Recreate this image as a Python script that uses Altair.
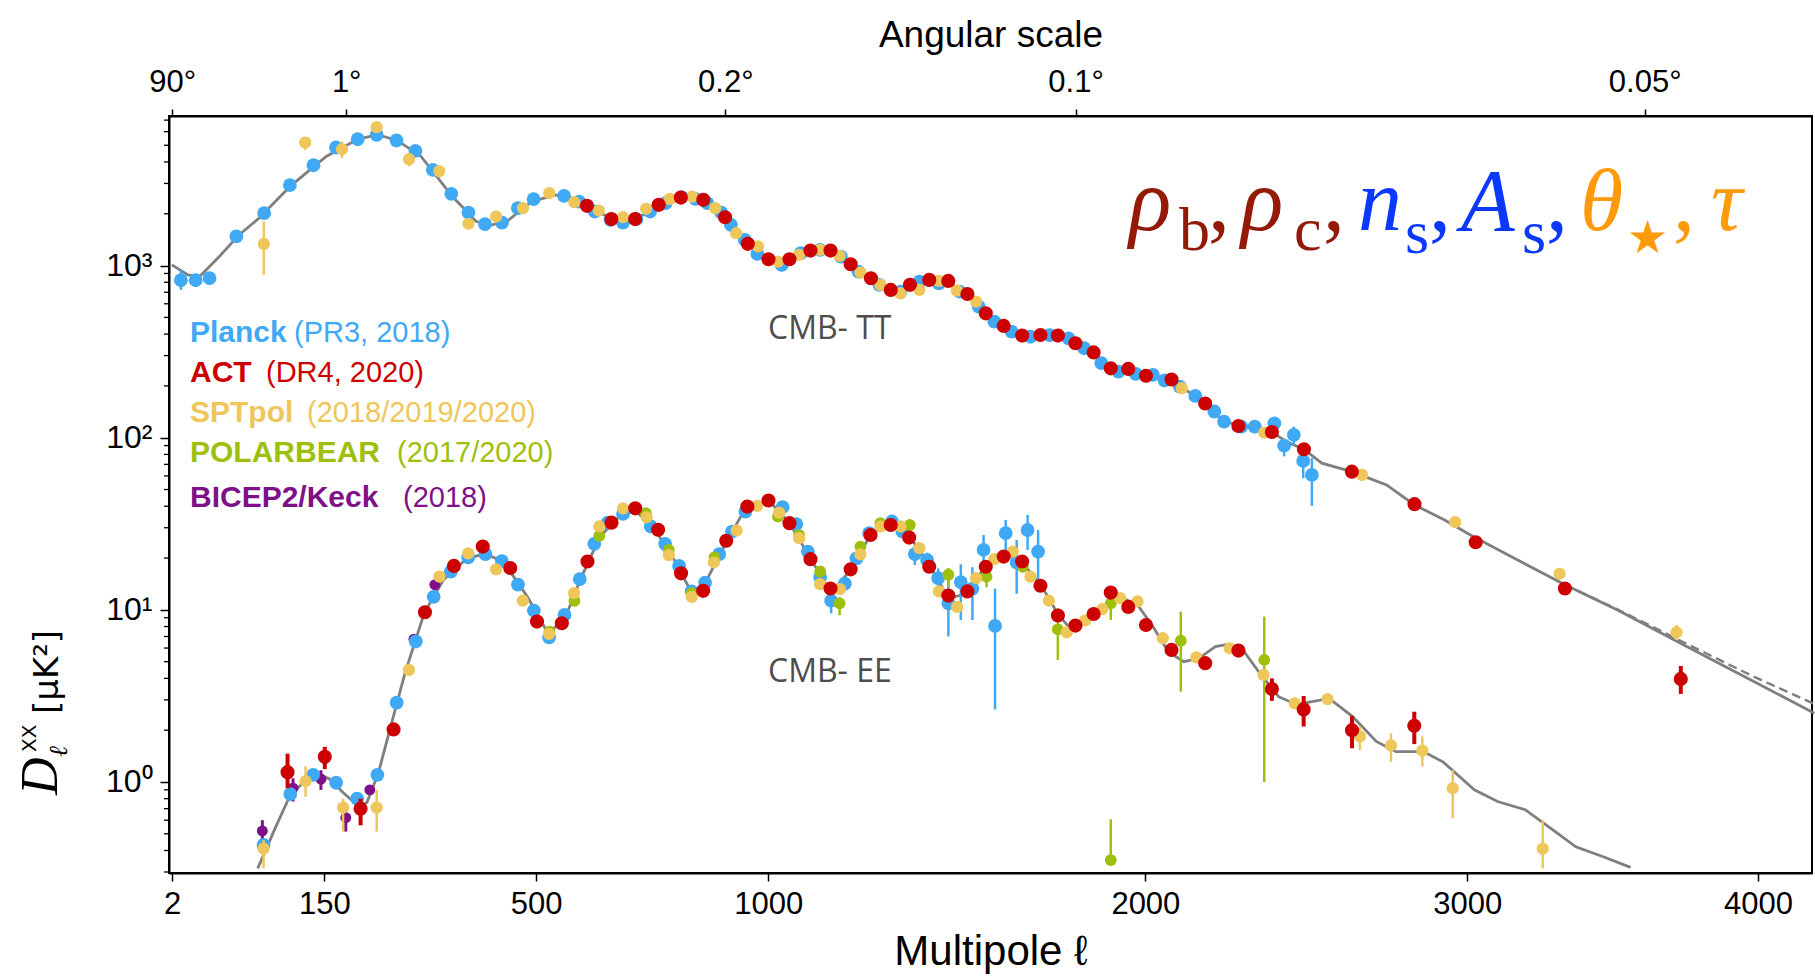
import altair as alt
import pandas as pd

# ---------------- theory curves ----------------
tt_theory_ell = [1.9, 9.7, 17.3, 32.6, 50.7, 70.8, 107, 152.4, 196.5, 225.7, 256.5, 294.6, 347.4, 389, 417.8,
                 446.9, 491.1, 537.5, 568.5, 616.5, 673.8, 732.6, 801, 827.7, 872, 917, 973, 1000, 1025, 1051,
                 1102, 1129, 1150, 1200, 1252, 1311, 1351, 1401, 1447, 1503, 1551, 1600, 1651, 1702, 1750,
                 1799, 1851, 1900, 1950, 2002, 2077, 2176, 2227, 2276, 2330, 2379, 2422, 2477, 2533, 2627,
                 2738, 2828, 2924, 3019, 3186, 3326, 3504, 3730, 3985, 4204]
tt_theory_D = [1010, 883, 863, 1130, 1510, 1884, 2904, 4305, 5420, 5754, 5333, 4305, 2518, 1803, 1726,
               1828, 2355, 2576, 2466, 2061, 1803, 2032, 2466, 2483, 2203, 1648, 1208, 1079, 1040, 1079,
               1216, 1245, 1222, 1018, 844, 716, 762, 818, 807, 684, 528, 446, 392, 395, 392,
               354, 313, 253, 248, 232, 217, 158, 127, 117, 113, 108, 95.1, 85.7, 71.1, 63.5,
               53.2, 40.7, 33.4, 26.7, 18.7, 14.0, 10.0, 6.34, 3.83, 2.51]
tt_fg_ell = [3326, 3504, 3730, 3985, 4204]
tt_fg_D = [14.0, 10.1, 6.55, 4.09, 2.84]

ee_theory_ell = [69.5, 88.6, 106.5, 135, 155.5, 176.7, 198.5, 210, 226.9, 244.6, 268.6, 299.7, 331.7, 370.9,
                 405.5, 440.5, 483.4, 523.7, 557.8, 588.4, 627.3, 667, 699.5, 732, 773.3, 824, 849.7, 893,
                 937.6, 1000.5, 1050.6, 1101.4, 1152, 1200.5, 1253, 1302, 1351, 1402, 1452, 1487, 1552,
                 1611, 1653, 1706, 1750, 1780, 1824, 1889, 1933, 1977, 2022, 2067, 2113, 2158, 2207, 2243,
                 2290, 2338, 2399, 2447, 2473, 2556, 2630, 2705, 2768, 2857, 2920, 3023, 3100, 3192, 3283,
                 3363, 3457, 3551]
ee_theory_D = [0.315, 0.538, 0.84, 1.12, 1.05, 0.86, 0.72, 0.76, 1.12, 2.00, 4.29, 9.55, 14.9, 19.7,
               21.3, 18.7, 11.9, 7.25, 9.14, 15.3, 26.7, 34.8, 37.8, 31.9, 22.3, 12.6, 13.6, 22.3,
               35.6, 43.5, 31.9, 19.9, 12.5, 17.1, 27.9, 31.1, 26.7, 18.2, 11.7, 12.2, 17.8,
               20.8, 18.7, 13.6, 9.46, 8.0, 8.55, 10.9, 11.7, 10.7, 8.0, 5.71, 5.0, 5.23, 6.12, 6.3,
               5.85, 4.37, 3.13, 2.86, 2.86, 3.06, 2.40, 1.72, 1.50, 1.50, 1.31, 0.90, 0.77, 0.69, 0.53,
               0.42, 0.368, 0.319]

# ---------------- Planck ----------------
planck_ell = [5.85, 14.6, 24.6, 47.9, 76.4, 106, 135.6, 165.7, 196.5, 224.6, 255.2, 285.4, 314.1, 345.4, 375.3,
              404.8, 435.8, 465.3, 495.3, 554.5, 584.5, 616.5, 649, 675, 703.4, 732.7, 766.3, 801.2, 832, 859,
              890.6, 912.9, 945, 974.3, 1032, 1078, 1125, 1176, 1220, 1273, 1327, 1376, 1427, 1482, 1533,
              1575, 1622, 1674, 1727, 1780, 1824, 1873, 1922, 1972, 2022, 2056, 2101, 2147, 2204, 2233,
              2285, 2326, 2386, 2416, 2446, 2475, 2502,
              75.7, 106.5, 135.2, 165.9, 195.6, 225.7, 255.4, 286, 315.5, 344.6, 374.8, 405.5, 435.5, 465.5,
              495.7, 525.2, 555.5, 586, 615.4, 643.1, 675, 734.2, 765.3, 796, 824, 854, 886.2, 915.3, 946.4,
              1034, 1067, 1095, 1125, 1152, 1186, 1215, 1247, 1305, 1332, 1364, 1396, 1425, 1452, 1485,
              1516, 1546, 1577, 1606, 1636, 1666, 1695]
planck_D = [822, 822, 845, 1476, 2015, 2931, 3828, 4852, 5420, 5750, 5330, 4645, 3600, 2612, 2033,
            1740, 1778, 2157, 2432, 2543, 2356, 2062, 1844, 1778, 1862, 2062, 2307, 2497, 2442, 2307,
            2033, 1726, 1410, 1169, 1009, 1180, 1234, 1128, 922, 773, 706, 807, 789, 706, 578,
            473, 413, 386, 395, 378, 331, 271, 242, 235, 232, 215, 198, 175, 142, 124,
            116, 116, 121, 90, 104, 73.3, 60.8,
            0.431, 0.851, 1.10, 0.99, 0.80, 1.10, 2.89, 6.55, 11.9, 16.7, 20.2, 21.1, 19.2, 14.0,
            9.9, 6.93, 9.35, 15.1, 24.2, 32.1, 36.1, 30.5, 24.2, 18.0, 12.8, 14.4, 21.1, 28.5, 37.2,
            39.5, 31.5, 21.8, 15.5, 11.3, 14.2, 19.9, 27.9, 32.6, 28.5, 21.1, 19.5, 15.3, 10.9, 14.5,
            13.3, 22.3, 8.07, 27.9, 18.8, 29.1, 21.8]
planck_err_ell = [5.85, 2386, 2416, 2446, 2475, 2502,
                  1152, 1364, 1396, 1425, 1452, 1485, 1516, 1546, 1577, 1606, 1636, 1666, 1695]
planck_err_lo = [723, 114, 78, 91, 58.2, 40.2,
                 9.55, 18.2, 18.0, 13.6, 7.0, 8.73, 8.73, 17.8, 2.64, 22.3, 12.4, 22.3, 14.3]
planck_err_hi = [944, 130, 97, 116, 79.4, 76,
                 13.3, 23.8, 21.5, 17.4, 14.9, 18.4, 17.7, 27.2, 13.3, 33.3, 25.5, 35.6, 29.1]

# ---------------- ACT ----------------
act_ell = [600.5, 650.7, 700.6, 751.4, 799.8, 850, 899.5, 952, 1000.5, 1050.6, 1101.4, 1150.5, 1200.5,
           1251.5, 1301.9, 1351.4, 1401.6, 1451.8, 1502.6, 1551.9, 1600.5, 1651, 1701.6, 1750.3, 1799.5,
           1851, 1900, 1950.4, 2001.8, 2076.6, 2176.5, 2276.4, 2378.5, 2477.3, 2627.6, 2827.8, 3027.5,
           3326, 3726,
           103.2, 150.5, 200.7, 250.6, 301, 349.9, 400.7, 451.1, 501.7, 550.2, 601.6, 651, 700.9, 750,
           800.3, 849.7, 902.1, 950.9, 1000.5, 1050.6, 1101.4, 1150.5, 1200.5, 1250.5, 1301.9, 1349.4,
           1401.6, 1451.8, 1502.6, 1551.9, 1600.5, 1651, 1701.6, 1750.3, 1799.5, 1851, 1900, 1950.4,
           2001.8, 2076.6, 2176.5, 2276.4, 2378.5, 2476.5, 2628, 2827]
act_D = [2223, 1862, 1862, 2254, 2483, 2410, 1910, 1337, 1089, 1089, 1222, 1222, 1018,
         844, 722, 773, 826, 815, 684, 528, 446, 392, 395, 392, 354,
         313, 253, 251, 229, 218, 158, 117, 108, 85.7, 63.5, 41.1, 24.7,
         13.3, 3.97,
         1.14, 1.40, 0.70, 2.02, 9.68, 18.0, 23.3, 17.5, 8.55, 8.36, 19.1, 32.1, 38.9, 29.2,
         16.3, 12.9, 25.2, 39.8, 43.2, 31.9, 19.7, 13.3, 17.2, 27.2, 31.1, 26.3,
         17.8, 12.1, 12.8, 17.8, 20.4, 19.1, 13.8, 9.27, 8.1, 9.46, 12.6, 10.4,
         8.17, 5.85, 4.90, 5.80, 3.47, 2.64, 2.00, 2.12]
act_err_ell = [3726, 103.2, 150.5, 200.7, 2378.5, 2476.5, 2628, 2827]
act_err_lo = [3.25, 0.92, 1.19, 0.56, 2.96, 2.10, 1.57, 1.66]
act_err_hi = [4.72, 1.46, 1.60, 0.80, 4.00, 3.16, 2.42, 2.56]

# ---------------- SPTpol ----------------
spt_ell = [76, 124.9, 174.1, 224.6, 275, 324.8, 375.2, 425, 474.9, 525.5, 574.9, 624.7, 675, 724, 775.3,
           825, 876.7, 925.1, 975.8, 1023, 1074, 1125, 1173, 1225, 1275.5, 1327, 1376, 1427, 1474.6,
           1526, 2107, 2355, 2660, 2960, 3308, 3711,
           75.7, 125.4, 175.6, 224.6, 274.8, 325.2, 374.8, 425, 474.7, 525.2, 574.5, 625.7, 675, 725.3,
           773.3, 824, 873.9, 926, 973.8, 1026, 1074, 1125, 1174, 1225, 1275.5, 1327, 1376, 1427, 1475,
           1526, 1575, 1625, 1674, 1725, 1775, 1827, 1876, 1927, 1977, 2051, 2150, 2250, 2353, 2449,
           2551, 2653, 2752, 2853, 2952, 3251]
spt_D = [1336, 5188, 4740, 6370, 4150, 3541, 1750, 1928, 2157, 2634, 2334, 2089, 1910, 2138, 2443,
         2518, 2157, 1542, 1291, 1054, 1153, 1234, 1137, 910, 773, 690, 722, 815, 716,
         618, 194, 107, 60.8, 32.3, 16.2, 7.41,
         0.41, 1.01, 0.71, 0.71, 4.48, 15.6, 21.3, 17.2, 11.3, 7.25, 12.5, 30.5, 38.9, 34.5,
         20.8, 11.9, 18.9, 28.9, 40.2, 36.7, 26.1, 14.1, 13.2, 21.0, 30.5, 30.5, 22.8, 12.8, 10.4,
         15.3, 19.7, 21.8, 15.6, 11.3, 7.41, 8.67, 10.1, 11.7, 11.2, 6.84, 5.30, 5.98, 4.19, 2.86,
         3.03, 1.84, 1.63, 1.52, 0.92, 0.41]
spt_err_ell = [76, 124.9, 174.1, 275, 3711, 75.7, 125.4, 175.6, 224.6, 2653, 2752, 2853, 2952, 3251]
spt_err_lo = [883, 4700, 4207, 3770, 6.68, 0.315, 0.82, 0.515, 0.515, 1.53, 1.31, 1.23, 0.615, 0.315]
spt_err_hi = [1803, 5570, 5260, 4500, 8.17, 0.46, 1.23, 0.80, 0.90, 2.10, 1.92, 1.84, 1.17, 0.60]

# ---------------- POLARBEAR ----------------
pb_ell = [526, 575.3, 625.7, 723.6, 773.3, 824, 875.5, 1023, 1074, 1125, 1173, 1225, 1275.5, 1351, 1452,
          1554, 1653, 1750, 1900, 1900, 2104, 2355]
pb_D = [7.48, 11.3, 26.9, 36.4, 22.3, 12.5, 20.2, 34.8, 27.2, 16.7, 10.9, 23.3, 31.9, 31.1, 16.0,
        15.6, 17.8, 7.71, 10.9, 0.352, 6.62, 5.12]
pb_err_ell = [1173, 1452, 1554, 1750, 1900, 1900, 2104, 2355]
pb_err_lo = [9.3, 13.6, 13.5, 5.12, 8.73, 0.33, 3.35, 1.0]
pb_err_hi = [11.9, 17.5, 17.1, 10.2, 11.7, 0.607, 9.77, 9.14]

# ---------------- BICEP2/Keck ----------------
bk_ell = [74.4, 109.8, 145.4, 179.4, 214.3, 283, 317.5]
bk_D = [0.52, 0.92, 1.04, 0.62, 0.90, 6.75, 14.0]
bk_err_ell = [74.4, 109.8, 145.4, 179.4]
bk_err_lo = [0.46, 0.77, 0.90, 0.515]
bk_err_hi = [0.60, 1.05, 1.17, 0.70]

# ---------------- axes ----------------
x_tick_values = [2, 150, 500, 1000, 2000, 3000, 4000]
top_tick_values = [2, 180, 900, 1800, 3600]
top_tick_labels = ["90°", "1°", "0.2°", "0.1°", "0.05°"]
y_tick_values = [1, 10, 100, 1000]
y_tick_labels = ["10⁰", "10¹", "10²", "10³"]
y_minor_ticks = [0.3, 0.4, 0.5, 0.6, 0.7, 0.8, 0.9, 2, 3, 4, 5, 6, 7, 8, 9, 20, 30, 40, 50, 60, 70, 80, 90,
                 200, 300, 400, 500, 600, 700, 800, 900, 2000, 3000, 4000, 5000, 6000, 7000]

# ---------------- styling ----------------
PLANCK = "#3FA9F5"
ACT = "#CC0000"
SPT = "#EEC65A"
PB = "#9DC00E"
BK = "#7E1187"
GRAY = "#7F7F7F"
F_RED = "#931A08"
F_BLUE = "#0A38FF"
F_ORANGE = "#FF9A0A"

FONT_AX = "Liberation Sans"
FONT_LEG = "Liberation Sans"
FONT_SERIF = "Liberation Serif"

PLOT_LEFT, PLOT_TOP = 169, 116
W, H = 1643, 757

X_SCALE = alt.Scale(type="pow", exponent=0.7, domain=[0.95, 4195], nice=False, zero=False)
Y_SCALE = alt.Scale(type="log", domain=[0.296, 7396], nice=False)


def frame(ell, D):
    n = min(len(ell), len(D))
    return pd.DataFrame({"ell": ell[:n], "D": D[:n]})


def err_frame(ell, lo, hi):
    n = min(len(ell), len(lo), len(hi))
    return pd.DataFrame({"ell": ell[:n], "lo": lo[:n], "hi": hi[:n]})


def points(df, color, size):
    return alt.Chart(df).mark_circle(color=color, size=size, opacity=1, strokeWidth=0).encode(
        x=alt.X("ell:Q", scale=X_SCALE, axis=None),
        y=alt.Y("D:Q", scale=Y_SCALE, axis=None),
    )


def errbars(df, color, width):
    return alt.Chart(df).mark_rule(color=color, strokeWidth=width).encode(
        x=alt.X("ell:Q", scale=X_SCALE, axis=None),
        y=alt.Y("lo:Q", scale=Y_SCALE, axis=None),
        y2="hi:Q",
    )


ONE = pd.DataFrame({"k": [0]})


def txt(s, x, y, size, color, font, weight="normal", style="normal", angle=0, align="left"):
    return alt.Chart(ONE).mark_text(
        text=s, fontSize=size, color=color, font=font, fontWeight=weight, fontStyle=style,
        angle=angle, align=align, baseline="alphabetic",
    ).encode(x=alt.value(x - PLOT_LEFT), y=alt.value(y - PLOT_TOP))


common = dict(
    domainColor="black", domainWidth=2, tickColor="black", tickWidth=1.5,
    labelColor="black", titleColor="black", labelFont=FONT_AX, titleFont=FONT_AX,
    titleFontWeight="normal", grid=False, labelOverlap=False, labelFlush=False,
)

top_expr = " : ".join(
    [f"datum.value == {v} ? '{l}'" for v, l in zip(top_tick_values[:-1], top_tick_labels[:-1])]
) + f" : '{top_tick_labels[-1]}'"
y_expr = " : ".join(
    [f"datum.value == {v} ? '{l}'" for v, l in zip(y_tick_values[:-1], y_tick_labels[:-1])]
) + f" : '{y_tick_labels[-1]}'"

x_bottom_axis = alt.Axis(orient="bottom", values=x_tick_values, format="d", title="Multipole ℓ",
                         tickSize=8, labelFontSize=31, titleFontSize=42, labelPadding=8,
                         titlePadding=12, **common)
x_top_axis = alt.Axis(orient="top", values=top_tick_values, labelExpr=top_expr, title="Angular scale",
                      tickSize=7, labelFontSize=31, titleFontSize=37, labelPadding=11,
                      titlePadding=12, **common)
y_axis = alt.Axis(orient="left", values=y_tick_values, labelExpr=y_expr, title="",
                  tickSize=9, labelFontSize=32, labelPadding=8, **common)

tt_df = frame(tt_theory_ell, tt_theory_D)

layers = []
layers.append(
    alt.Chart(tt_df).mark_line(color=GRAY, strokeWidth=2.8).encode(
        x=alt.X("ell:Q", scale=X_SCALE, axis=x_bottom_axis),
        y=alt.Y("D:Q", scale=Y_SCALE, axis=y_axis))
)
layers.append(
    alt.Chart(tt_df).mark_point(opacity=0).encode(
        x=alt.X("ell:Q", scale=X_SCALE, axis=x_top_axis),
        y=alt.Y("D:Q", scale=Y_SCALE, axis=None))
)
layers.append(
    alt.Chart(pd.DataFrame({"v": y_minor_ticks})).mark_rule(color="black", strokeWidth=1.3).encode(
        y=alt.Y("v:Q", scale=Y_SCALE, axis=None), x=alt.value(-5), x2=alt.value(0))
)
layers.append(
    alt.Chart(frame(tt_fg_ell, tt_fg_D)).mark_line(color=GRAY, strokeWidth=2.4, strokeDash=[9, 5]).encode(
        x=alt.X("ell:Q", scale=X_SCALE, axis=None),
        y=alt.Y("D:Q", scale=Y_SCALE, axis=None))
)
layers.append(
    alt.Chart(frame(ee_theory_ell, ee_theory_D)).mark_line(color=GRAY, strokeWidth=2.8).encode(
        x=alt.X("ell:Q", scale=X_SCALE, axis=None),
        y=alt.Y("D:Q", scale=Y_SCALE, axis=None))
)

layers += [
    errbars(err_frame(bk_err_ell, bk_err_lo, bk_err_hi), BK, 3),
    points(frame(bk_ell, bk_D), BK, 120),
    errbars(err_frame(planck_err_ell, planck_err_lo, planck_err_hi), PLANCK, 2.5),
    points(frame(planck_ell, planck_D), PLANCK, 190),
    errbars(err_frame(pb_err_ell, pb_err_lo, pb_err_hi), PB, 2.5),
    points(frame(pb_ell, pb_D), PB, 140),
    errbars(err_frame(spt_err_ell, spt_err_lo, spt_err_hi), SPT, 2.5),
    points(frame(spt_ell, spt_D), SPT, 150),
    errbars(err_frame(act_err_ell, act_err_lo, act_err_hi), ACT, 4),
    points(frame(act_ell, act_D), ACT, 200),
]

# spectrum labels
layers.append(txt("CMB- TT", 768, 339, 32, "#4D4D4D", "Open Sans"))
layers.append(txt("CMB- EE", 768, 682, 32, "#4D4D4D", "Open Sans"))

# legend text
legend_rows = [
    ("Planck", "(PR3, 2018)", PLANCK, 342, 294),
    ("ACT", "(DR4, 2020)", ACT, 382, 266),
    ("SPTpol", "(2018/2019/2020)", SPT, 422, 307),
    ("POLARBEAR", "(2017/2020)", PB, 462, 397),
    ("BICEP2/Keck", "(2018)", BK, 507, 403),
]
for bold, rest, col, base, xr in legend_rows:
    layers.append(txt(bold, 190, base, 30, col, FONT_LEG, weight="bold"))
    layers.append(txt(rest, xr, base, 29, col, FONT_LEG))

# parameter formula
formula = [
    ("ρ", 1129, 230, 88, F_RED, "italic", FONT_SERIF),
    ("b", 1179, 250, 62, F_RED, "normal", FONT_SERIF),
    (",", 1208, 230, 88, F_RED, "normal", FONT_SERIF),
    ("ρ", 1241, 230, 88, F_RED, "italic", FONT_SERIF),
    ("c", 1294, 250, 62, F_RED, "normal", FONT_SERIF),
    (",", 1323, 230, 88, F_RED, "normal", FONT_SERIF),
    ("n", 1358, 230, 88, F_BLUE, "italic", FONT_SERIF),
    ("s", 1405, 253, 62, F_BLUE, "normal", FONT_SERIF),
    (",", 1429, 230, 88, F_BLUE, "normal", FONT_SERIF),
    ("A", 1461, 230, 88, F_BLUE, "italic", FONT_SERIF),
    ("s", 1522, 253, 62, F_BLUE, "normal", FONT_SERIF),
    (",", 1546, 230, 88, F_BLUE, "normal", FONT_SERIF),
    ("θ", 1580, 230, 88, F_ORANGE, "italic", FONT_SERIF),
    ("★", 1627, 253, 46, F_ORANGE, "normal", "DejaVu Sans"),
    (",", 1673, 230, 88, F_ORANGE, "normal", FONT_SERIF),
    ("τ", 1711, 230, 88, F_ORANGE, "italic", FONT_SERIF),
]
for s, x, y, size, col, style, font in formula:
    layers.append(txt(s, x, y, size, col, font, style=style))

# rotated y-axis title
layers.append(txt("D", 57, 795, 52, "black", FONT_SERIF, style="italic", angle=270))
layers.append(txt("ℓ", 67, 757, 26, "black", FONT_SERIF, style="italic", angle=270))
layers.append(txt("XX", 36, 752, 20, "black", "DejaVu Sans", angle=270))
layers.append(txt("[μK²]", 58, 714, 34, "black", "DejaVu Sans", angle=270))

chart = (
    alt.layer(*layers)
    .resolve_axis(x="independent", y="independent")
    .properties(
        width=W,
        height=H,
        padding={"left": PLOT_LEFT, "top": PLOT_TOP, "right": 3, "bottom": 104},
        autosize=alt.AutoSizeParams(type="none"),
        background="white",
    )
    .configure_view(stroke="black", strokeWidth=2)
)

chart.save("out.html", embed_options={"renderer": "svg", "actions": False})
